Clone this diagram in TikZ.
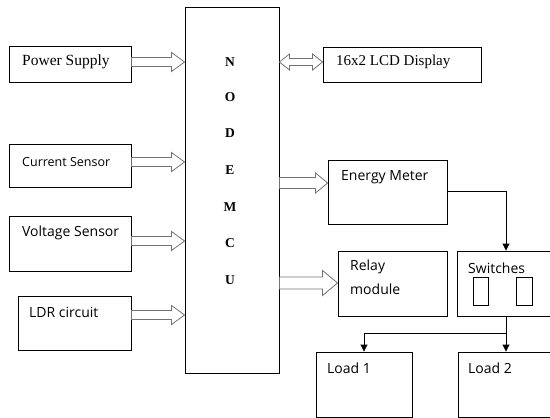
\documentclass[tikz,border=0pt]{standalone}
\usepackage{fontspec}
\setmainfont{Liberation Serif}
\newfontfamily\sansf{Open Sans}
\usetikzlibrary{arrows.meta,fit,calc}
\tikzset{
  box/.style={draw=black, line width=0.9pt, inner sep=0pt, rectangle},
  hollow/.style={draw=black!55, line width=0.8pt, fill=white},
  conn/.style={draw=black, line width=0.9pt, -{Triangle[length=7pt,width=7pt]}},
  sertxt/.style={font=\fontsize{15.5}{18}\selectfont, inner sep=0pt, anchor=west},
  sanstxt/.style={font=\sansf\fontsize{14}{17}\selectfont, inner sep=0pt, anchor=west},
  smalltxt/.style={font=\sansf\fontsize{12.5}{15}\selectfont, inner sep=0pt, anchor=west},
  mcutxt/.style={font=\bfseries\fontsize{13.5}{16}\selectfont, inner sep=0pt}
}
% #1 from node (east), #2 to node (west), #3 y in px, #4 half shaft, #5 half head, #6 head length
\newcommand\harrow[6]{%
  \path (#1.east |- 0,#3) coordinate (hs) (#2.west |- 0,#3) coordinate (he);
  \draw[hollow] let \p1=(hs), \p2=(he) in
    (\x1,\y1+#4pt) -- (\x2-#6pt,\y1+#4pt) -- (\x2-#6pt,\y1+#5pt) -- (\x2,\y1)
    -- (\x2-#6pt,\y1-#5pt) -- (\x2-#6pt,\y1-#4pt) -- (\x1,\y1-#4pt) -- cycle;
}
\newcommand\dharrow[6]{%
  \path (#1.east |- 0,#3) coordinate (hs) (#2.west |- 0,#3) coordinate (he);
  \draw[hollow] let \p1=(hs), \p2=(he) in
    (\x1,\y1) -- (\x1+#6pt,\y1+#5pt) -- (\x1+#6pt,\y1+#4pt) -- (\x2-#6pt,\y1+#4pt)
    -- (\x2-#6pt,\y1+#5pt) -- (\x2,\y1) -- (\x2-#6pt,\y1-#5pt) -- (\x2-#6pt,\y1-#4pt)
    -- (\x1+#6pt,\y1-#4pt) -- (\x1+#6pt,\y1-#5pt) -- cycle;
}
\begin{document}
\begin{tikzpicture}[x=1pt,y=-1pt]
\useasboundingbox (0,0) rectangle (550,418);
\clip (0,0) rectangle (550,418);
\fill[white] (0,0) rectangle (550,418);

% boxes
\node[box, fit={(9,46) (131,82)}] (ps) {};
\node[box, fit={(9,144) (131,187)}] (cs) {};
\node[box, fit={(9,216) (131,271)}] (vs) {};
\node[box, fit={(18,296) (131,350)}] (ldr) {};
\node[box, fit={(185,7) (279,373)}] (mcu) {};
\node[box, fit={(323,47) (481,82)}] (lcd) {};
\node[box, fit={(328,160) (447,224)}] (em) {};
\node[box, fit={(338,251) (447,316)}] (relay) {};
\node[box, fit={(457,251) (560,316)}] (sw) {};
\node[box, fit={(473,277) (488,305)}] (swa) {};
\node[box, fit={(516,277) (532,305)}] (swb) {};
\node[box, fit={(316,352) (412,417)}] (l1) {};
\node[box, fit={(458,352) (560,417)}] (l2) {};

% texts
\node[sertxt] (tps) at (22,62) {Power Supply};
\node[smalltxt] (tcs) at (22,162) {Current Sensor};
\node[sanstxt] (tvs) at (22,233) {Voltage Sensor};
\node[sanstxt] (tldr) at (29,312) {LDR circuit};
\node[sertxt, font=\fontsize{15}{18}\selectfont] (tlcd) at (336,62) {16x2 LCD Display};
\node[sanstxt] (tem) at (341,177) {Energy Meter};
\node[sanstxt] (trel) at (350,267) {Relay};
\node[sanstxt] (tmod) at (350,289) {module};
\node[sanstxt] (tsw) at (468,268) {Switches};
\node[sanstxt] (tl1) at (327,368) {Load 1};
\node[sanstxt] (tl2) at (468,368) {Load 2};

\node[mcutxt] (n1) at (230,62) {N};
\node[mcutxt] (n2) at (230,97) {O};
\node[mcutxt] (n3) at (230,133) {D};
\node[mcutxt] (n4) at (230,170) {E};
\node[mcutxt] (n5) at (230,207) {M};
\node[mcutxt] (n6) at (230,243) {C};
\node[mcutxt] (n7) at (230,280) {U};

% hollow arrows
\harrow{ps}{mcu}{62}{4.5}{9.5}{13}
\harrow{cs}{mcu}{162}{4.5}{9.5}{13}
\harrow{vs}{mcu}{241}{4.5}{9.5}{13}
\harrow{ldr}{mcu}{315}{4.5}{9.5}{13}
\harrow{mcu}{em}{183}{5.5}{10}{12}
\harrow{mcu}{relay}{283}{6}{12.5}{15}
\dharrow{mcu}{lcd}{62}{3.5}{8}{10}

% connectors
\coordinate (swx) at (506,0);
\coordinate (brk) at (506,333);
\draw[conn] (em.east |- 0,191) -| (swx |- sw.north);
\draw[conn] (swx |- sw.south) -- (swx |- l2.north);
\draw[conn] (brk) -| (l1.north);
\end{tikzpicture}
\end{document}
